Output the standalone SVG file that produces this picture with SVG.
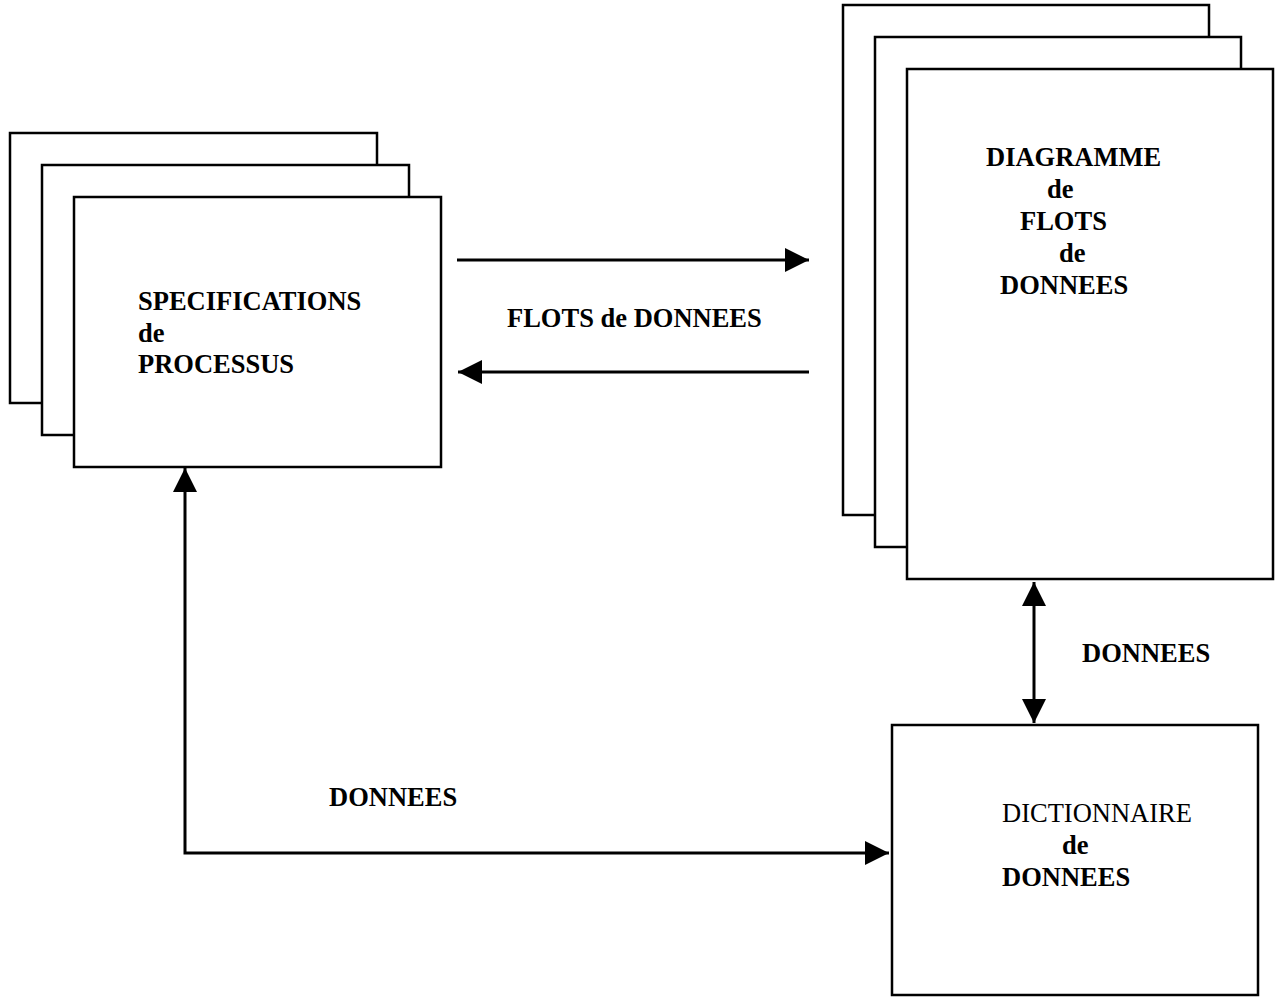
<svg xmlns="http://www.w3.org/2000/svg" width="1280" height="1000" viewBox="0 0 1280 1000">
<style>
.box{fill:#fff;stroke:#000;stroke-width:2.5}
.t{font-family:"Liberation Serif","Times New Roman",serif;font-size:26.5px;font-weight:bold;fill:#000}
.r{font-weight:normal}
.c{fill:none;stroke:#000;stroke-width:3}
</style>
<defs>
<marker id="ah" markerUnits="userSpaceOnUse" markerWidth="24" markerHeight="24" viewBox="0 0 22 22" refX="22" refY="11" orient="auto-start-reverse">
<path d="M0,0 L22,11 L0,22 Z" fill="#000"/>
</marker>
</defs>
<rect width="1280" height="1000" fill="#fff"/>
<g id="specifications">
<rect class="box" x="10" y="133" width="367" height="270"/>
<rect class="box" x="42" y="165" width="367" height="270"/>
<rect class="box" x="74" y="197" width="367" height="270"/>
<text class="t" x="138" y="310">SPECIFICATIONS</text>
<text class="t" x="138" y="342">de</text>
<text class="t" x="138" y="373">PROCESSUS</text>
</g>
<g id="diagramme">
<rect class="box" x="843" y="5" width="366" height="510"/>
<rect class="box" x="875" y="37" width="366" height="510"/>
<rect class="box" x="907" y="69" width="366" height="510"/>
<text class="t" x="986" y="166">DIAGRAMME</text>
<text class="t" x="1047" y="198">de</text>
<text class="t" x="1020" y="230">FLOTS</text>
<text class="t" x="1059" y="262">de</text>
<text class="t" x="1000" y="294">DONNEES</text>
</g>
<g id="dictionnaire">
<rect class="box" x="892" y="725" width="366" height="270"/>
<text class="t r" x="1002" y="822">DICTIONNAIRE</text>
<text class="t" x="1062" y="854">de</text>
<text class="t" x="1002" y="886">DONNEES</text>
</g>
<g id="connectors">
<line class="c" x1="457" y1="260" x2="809" y2="260" marker-end="url(#ah)"/>
<line class="c" x1="809" y1="372" x2="458" y2="372" marker-end="url(#ah)"/>
<line class="c" x1="1034" y1="582" x2="1034" y2="723" marker-start="url(#ah)" marker-end="url(#ah)"/>
<polyline class="c" points="185,468 185,853 889,853" marker-start="url(#ah)" marker-end="url(#ah)"/>
<text class="t" x="507" y="327">FLOTS de DONNEES</text>
<text class="t" x="1082" y="662">DONNEES</text>
<text class="t" x="329" y="806">DONNEES</text>
</g>
</svg>
